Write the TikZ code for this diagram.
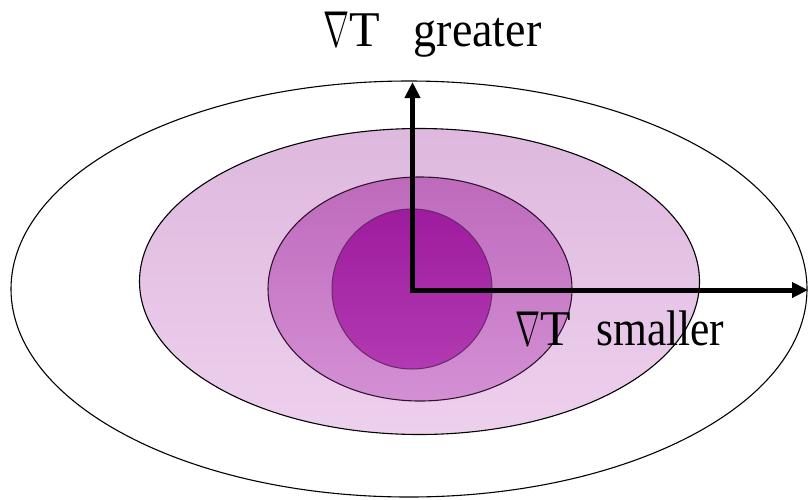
\documentclass[tikz,border=0pt]{standalone}
\usepackage{fontspec}
\usepackage{graphicx}
\setmainfont{Liberation Serif}
\usetikzlibrary{arrows.meta}
\definecolor{ringAtop}{RGB}{222,184,222}
\definecolor{ringAbot}{RGB}{237,208,237}
\definecolor{ringBtop}{RGB}{190,106,188}
\definecolor{ringBbot}{RGB}{212,144,212}
\definecolor{coreTop}{RGB}{158,28,158}
\definecolor{coreBot}{RGB}{178,58,178}
\definecolor{coreEdge}{RGB}{105,40,105}
\definecolor{midEdge}{RGB}{50,20,50}
\tikzset{
  ring/.style={line width=1.1pt},
  axis/.style={line width=5pt, line join=miter,
    {Triangle[length=16pt,width=15pt]}-{Triangle[length=16pt,width=15pt]}},
  lbl/.style={font=\fontsize{50}{54}\selectfont, anchor=base west, inner sep=0pt}
}
\begin{document}
\begin{tikzpicture}[x=1pt,y=-1pt]
\useasboundingbox (0,0) rectangle (808,499);
\fill[white] (0,0) rectangle (808,499);
\draw[ring, fill=white] (409,289) ellipse [x radius=398pt, y radius=208pt];
\shade[top color=ringAtop, bottom color=ringAbot] (419.5,281.5) ellipse [x radius=280pt, y radius=153pt];
\draw[ring] (419.5,281.5) ellipse [x radius=280pt, y radius=153pt];
\shade[top color=ringBtop, bottom color=ringBbot] (420,289) ellipse [x radius=152pt, y radius=112pt];
\draw[ring, draw=midEdge] (420,289) ellipse [x radius=152pt, y radius=112pt];
\shade[top color=coreTop, bottom color=coreBot] (412,289) ellipse [x radius=80pt, y radius=80pt];
\draw[line width=1pt, draw=coreEdge] (412,289) ellipse [x radius=80pt, y radius=80pt];
\coordinate (top) at (412.5,82);
\coordinate (corner) at (412.5,290);
\coordinate (right) at (808,290);
\draw[axis] (top) -- (corner) -- (right);
\node[lbl] (greater) at (323.5,46.5)
  {\resizebox{26pt}{34.5pt}{$\nabla$}\kern-0.5pt T\kern34pt\scalebox{0.92}[1]{greater}};
\node[lbl] (smaller) at (515,345.5)
  {\resizebox{25pt}{33.5pt}{$\nabla$}T\kern25.5pt\scalebox{0.87}[1]{smaller}};
\end{tikzpicture}
\end{document}
